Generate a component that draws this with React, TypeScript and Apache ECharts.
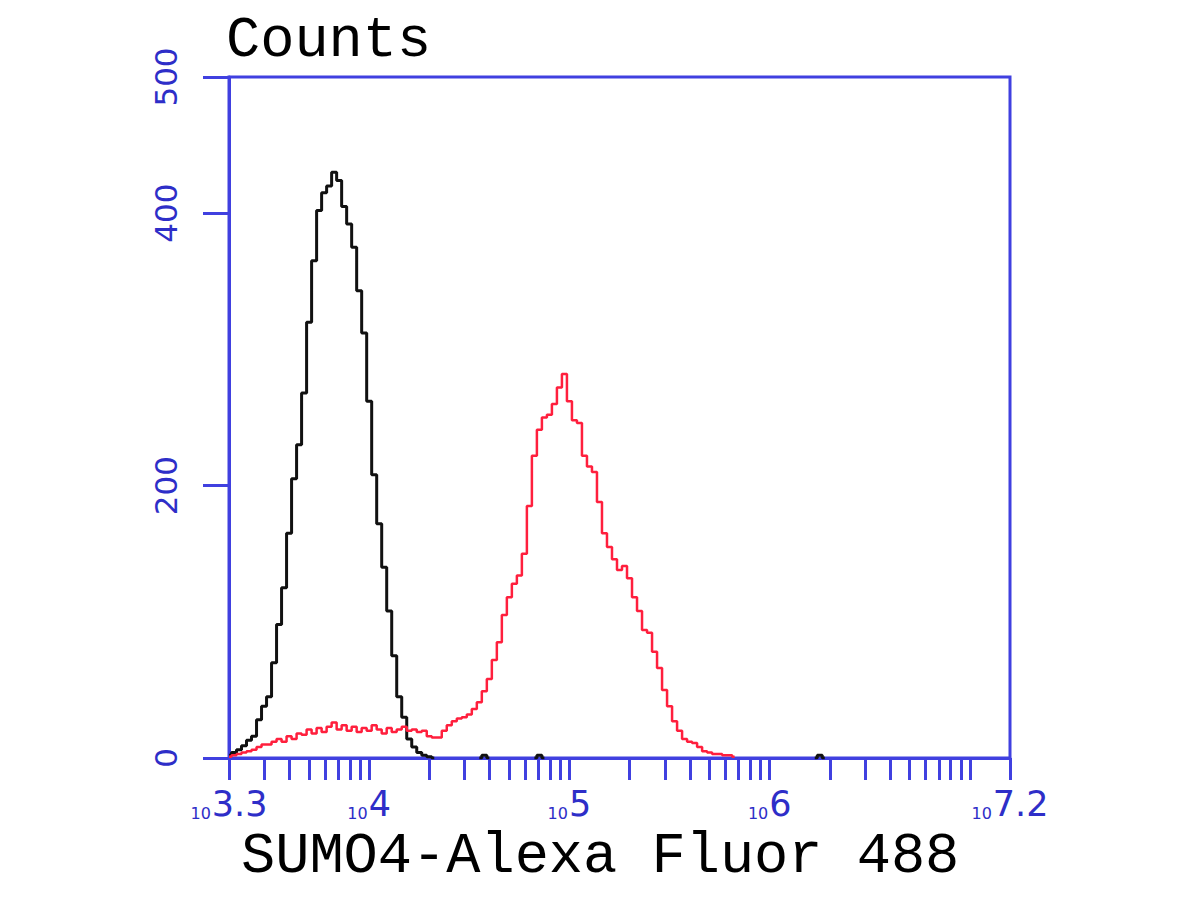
import React, { useEffect, useRef } from 'react';
import * as echarts from 'echarts';

// x values are log10 of fluorescence intensity (decade exponent)
const blackBins = [
  3.300, 3.325, 3.350, 3.375, 3.400, 3.425, 3.450, 3.475, 3.500, 3.525,
  3.550, 3.575, 3.600, 3.625, 3.650, 3.675, 3.700, 3.725, 3.750, 3.775,
  3.800, 3.825, 3.850, 3.875, 3.900, 3.925, 3.950, 3.975, 4.000, 4.025,
  4.050, 4.075, 4.100, 4.125, 4.150, 4.175, 4.200, 4.225, 4.250, 4.275,
  4.300, 4.325,
];
const blackCounts = [
  2, 4, 6, 9, 13, 16, 28, 38, 45, 70,
  98, 125, 165, 205, 230, 268, 320, 365, 402, 415,
  420, 430, 424, 405, 392, 375, 343, 312, 262, 208,
  172, 140, 108, 75, 45, 30, 14, 8, 4, 2,
  1, 0,
];
// isolated low-count channels of the control (black) histogram
const blackBlipBins = [4.575, 4.85, 6.25];
const blackBlipCounts = [2, 2, 2];

const redBins = [
  3.300, 3.325, 3.350, 3.375, 3.400, 3.425, 3.450, 3.475, 3.500, 3.525,
  3.550, 3.575, 3.600, 3.625, 3.650, 3.675, 3.700, 3.725, 3.750, 3.775,
  3.800, 3.825, 3.850, 3.875, 3.900, 3.925, 3.950, 3.975, 4.000, 4.025,
  4.050, 4.075, 4.100, 4.125, 4.150, 4.175, 4.200, 4.225, 4.250, 4.275,
  4.300, 4.325, 4.350, 4.375, 4.400, 4.425, 4.450, 4.475, 4.500, 4.525,
  4.550, 4.575, 4.600, 4.625, 4.650, 4.675, 4.700, 4.725, 4.750, 4.775,
  4.800, 4.825, 4.850, 4.875, 4.900, 4.925, 4.950, 4.975, 5.000, 5.025,
  5.050, 5.075, 5.100, 5.125, 5.150, 5.175, 5.200, 5.225, 5.250, 5.275,
  5.300, 5.325, 5.350, 5.375, 5.400, 5.425, 5.450, 5.475, 5.500, 5.525,
  5.550, 5.575, 5.600, 5.625, 5.650, 5.675, 5.700, 5.725, 5.750, 5.775,
  5.800, 5.825,
];
const redCounts = [
  1, 2, 3, 4, 5, 6, 8, 10, 10, 12,
  14, 12, 16, 14, 18, 17, 21, 18, 22, 19,
  23, 26, 21, 24, 20, 23, 19, 22, 20, 24,
  21, 18, 22, 19, 21, 23, 20, 21, 19, 20,
  16, 15, 15, 20, 24, 27, 29, 30, 32, 36,
  41, 49, 58, 72, 85, 105, 118, 128, 134, 150,
  185, 222, 241, 250, 252, 260, 272, 282, 262, 248,
  246, 222, 214, 210, 188, 165, 155, 146, 138, 141,
  132, 118, 108, 94, 92, 78, 66, 50, 38, 27,
  20, 14, 12, 11, 8, 5, 4, 3, 3, 2,
  2, 1,
];

const xMin = 3.3;
const xMax = 7.2;
const xLabelValues = [3.3, 4, 5, 6, 7.2];
const xLabelTexts = ['3.3', '4', '5', '6', '7.2'];
const decades = [3, 4, 5, 6, 7];
const multipliers = [1, 2, 3, 4, 5, 6, 7, 8, 9];
const yTickValues = [0, 200, 400, 500];
const yMax = 500;

const BLUE = '#4040e0';
const BLUE_TEXT = '#2e2ec8';

export default function App() {
  const ref = useRef<HTMLDivElement>(null);

  useEffect(() => {
    if (!ref.current) return;
    const chart = echarts.init(ref.current, null, { renderer: 'svg' });

    const xTicks: number[] = [xMin, xMax];
    decades.forEach((d) =>
      multipliers.forEach((m) => {
        const v = d + Math.log10(m);
        if (v >= xMin - 1e-9 && v <= xMax + 1e-9) xTicks.push(v);
      })
    );

    const blipSeries = blackBlipBins.map((b, i) => ({
      type: 'line',
      step: 'middle',
      symbol: 'none',
      lineStyle: { color: '#111', width: 3 },
      data: [
        [b - 0.025, 0],
        [b, blackBlipCounts[i]],
        [b + 0.025, 0],
      ],
      z: 3,
    }));

    chart.setOption({
      animation: false,
      backgroundColor: '#ffffff',
      grid: {
        left: 229,
        right: 190,
        top: 77,
        bottom: 142,
        show: true,
        borderColor: BLUE,
        borderWidth: 3,
      },
      xAxis: {
        type: 'value',
        min: xMin,
        max: xMax,
        splitLine: { show: false },
        axisLine: { show: true, lineStyle: { color: BLUE, width: 3 } },
        axisTick: {
          show: true,
          customValues: xTicks,
          length: 22,
          lineStyle: { color: BLUE, width: 3 },
        },
        axisLabel: {
          customValues: xLabelValues,
          margin: 28,
          formatter: (v: number) => {
            const idx = xLabelValues.findIndex((x) => Math.abs(x - v) < 1e-6);
            const t = idx >= 0 ? xLabelTexts[idx] : String(v);
            return `{s|10}{b|${t}}`;
          },
          rich: {
            s: {
              fontSize: 16,
              color: BLUE_TEXT,
              fontFamily: 'DejaVu Sans',
              verticalAlign: 'bottom',
              padding: [0, 1, 0, 0],
            },
            b: {
              fontSize: 35,
              color: BLUE_TEXT,
              fontFamily: 'DejaVu Sans',
            },
          },
        },
      },
      yAxis: {
        type: 'value',
        min: 0,
        max: yMax,
        splitLine: { show: false },
        axisLine: { show: true, lineStyle: { color: BLUE, width: 3 } },
        axisTick: {
          show: true,
          customValues: yTickValues,
          length: 26,
          lineStyle: { color: BLUE, width: 3 },
        },
        axisLabel: {
          customValues: yTickValues,
          rotate: 90,
          margin: 48,
          fontSize: 31,
          color: BLUE_TEXT,
          fontFamily: 'DejaVu Sans',
        },
      },
      graphic: [
        {
          type: 'text',
          left: 226,
          top: 12,
          style: {
            text: 'Counts',
            font: '57px "Liberation Mono"',
            fill: '#000',
          },
        },
        {
          type: 'text',
          left: 241,
          top: 828,
          style: {
            text: 'SUMO4-Alexa Fluor 488',
            font: '57px "Liberation Mono"',
            fill: '#000',
          },
        },
      ],
      series: [
        {
          name: 'Control',
          type: 'line',
          step: 'middle',
          symbol: 'none',
          lineStyle: { color: '#111', width: 3 },
          data: blackBins.map((b, i) => [b, blackCounts[i]]),
          z: 3,
        },
        ...blipSeries,
        {
          name: 'SUMO4',
          type: 'line',
          step: 'middle',
          symbol: 'none',
          lineStyle: { color: '#ff1f3d', width: 2.5 },
          data: redBins.map((b, i) => [b, redCounts[i]]),
          z: 4,
        },
      ],
    });

    return () => chart.dispose();
  }, []);

  return (
    <div
      ref={ref}
      style={{ position: 'absolute', left: 0, top: 0, width: 1200, height: 900 }}
    />
  );
}
